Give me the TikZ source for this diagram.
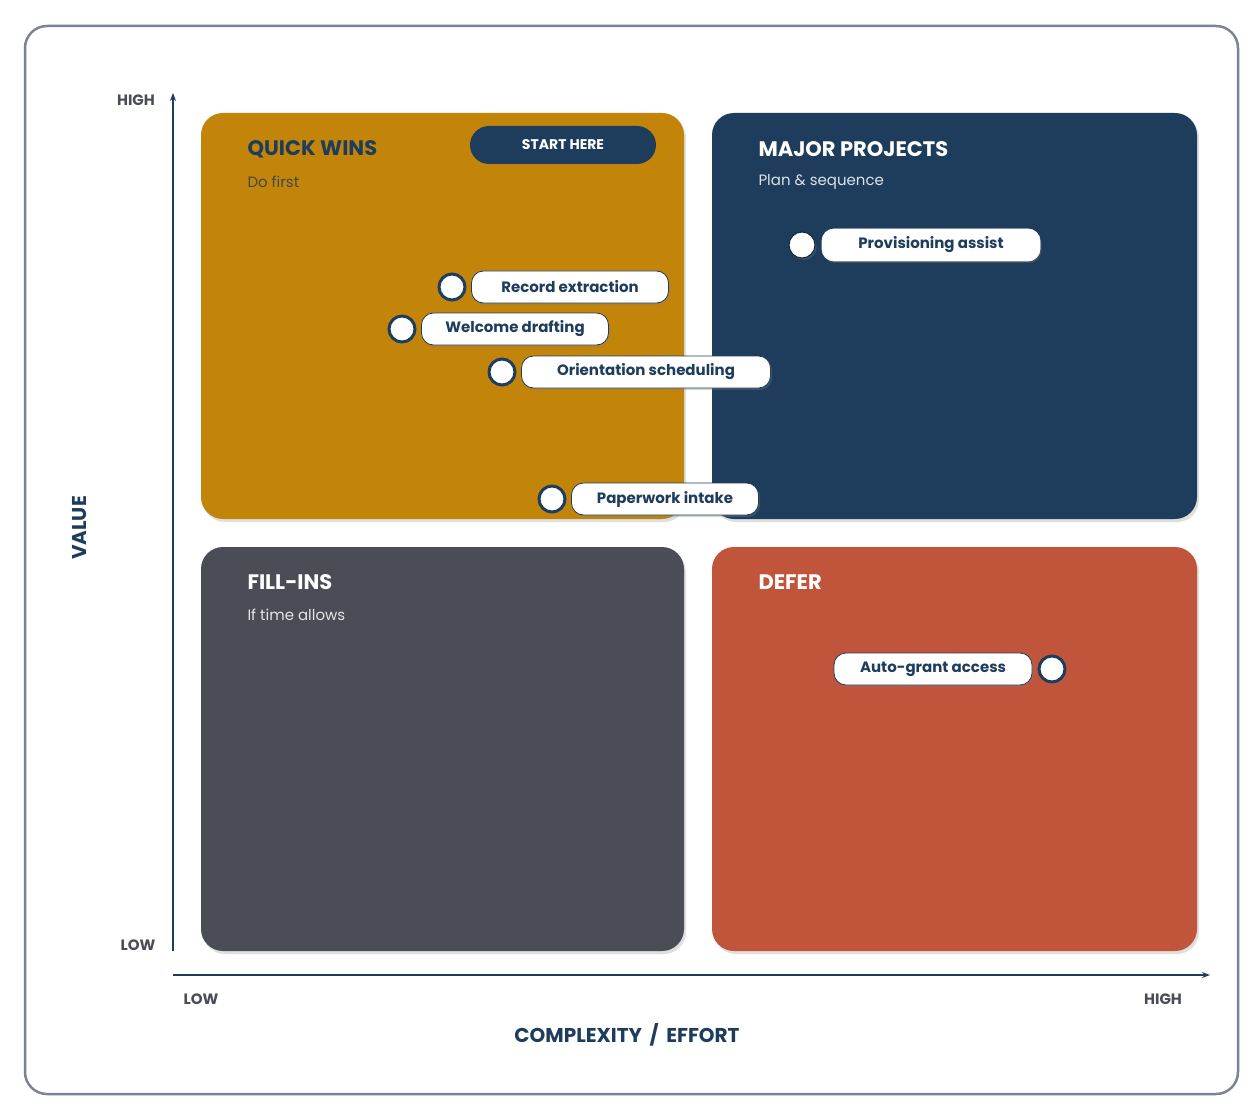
\documentclass[tikz,border=0pt]{standalone}
\usepackage{fontspec}
\setmainfont{Poppins}
\usetikzlibrary{shadows,arrows.meta}
\definecolor{gold}{HTML}{C2850A}
\definecolor{navy}{HTML}{1E3D5C}
\definecolor{slate}{HTML}{4A4D56}
\definecolor{rust}{HTML}{C0553B}
\definecolor{frame}{HTML}{7A8594}
\definecolor{axlbl}{HTML}{4A4D56}
\begin{document}
\begin{tikzpicture}[x=1pt,y=-1pt,
  quad/.style={rounded corners=22pt, drop shadow={opacity=0.25,shadow xshift=2pt,shadow yshift=-3pt}},
  pill/.style={draw=navy, line width=0.8pt, fill=white, rounded corners=12pt, drop shadow={opacity=0.3,shadow xshift=1.5pt,shadow yshift=-2pt}},
  plbl/.style={font=\bfseries\fontsize{15}{18}\selectfont, text=navy},
  dot/.style={circle, draw=navy, line width=3pt, fill=white, minimum size=26pt, inner sep=0pt, drop shadow={opacity=0.3,shadow xshift=1.5pt,shadow yshift=-2pt}},
  qtitle/.style={anchor=west, font=\bfseries\fontsize{21}{24}\selectfont},
  qsub/.style={anchor=west, font=\fontsize{15}{18}\selectfont},
  axl/.style={font=\bfseries\fontsize{15}{18}\selectfont, text=axlbl}]
\useasboundingbox (0,0) rectangle (1255,1107);
\fill[white] (0,0) rectangle (1255,1107);
\draw[frame, line width=2.5pt, rounded corners=22pt] (25,26) rectangle (1238,1094);
% quadrants
\fill[gold,quad] (201,113) rectangle (684,519);
\fill[navy,quad] (712,113) rectangle (1197,519);
\fill[slate,quad] (201,547) rectangle (684,951);
\fill[rust,quad] (712,547) rectangle (1197,951);
\node[qtitle,text=navy] (qw) at (244,149) {QUICK WINS};
\node[qsub,text=navy!80!gold] (qws) at (244,182) {Do first};
\node[qtitle,text=white] (mp) at (755,149) {MAJOR PROJECTS};
\node[qsub,text=white!85!navy] (mps) at (755,182) {Plan \& sequence};
\node[qtitle,text=white] (fi) at (244,582) {FILL-INS};
\node[qsub,text=white!85!slate] (fis) at (244,615) {If time allows};
\node[qtitle,text=white] (df) at (755,582) {DEFER};
% start here
\node[fill=navy, rounded corners=19pt, minimum width=186pt, minimum height=38pt, text=white, font=\bfseries\fontsize{14}{16}\selectfont] (start) at (563,145) {START HERE};
% axes
\draw[navy, line width=1.5pt, -{Stealth[length=8pt,width=6pt]}] (173,951) coordinate (y0) -- (173,93) coordinate (y1);
\draw[navy, line width=1.5pt, -{Stealth[length=8pt,width=6pt]}] (173,975) coordinate (x0) -- (1210,975) coordinate (x1);
\node[axl] (hv) at (136,100) {HIGH};
\node[axl] (lv) at (138,945) {LOW};
\node[axl] (lx) at (201,999) {LOW};
\node[axl] (hx) at (1163,999) {HIGH};
\node[font=\bfseries\fontsize{20}{22}\selectfont, text=navy, rotate=90] (val) at (80,528) {VALUE};
\node[font=\bfseries\fontsize{20}{22}\selectfont, text=navy] (cx) at (627,1035) {COMPLEXITY \,/\, EFFORT};
% items
\node[pill, minimum width=197pt, minimum height=32pt] (p1) at (570,287) {};
\node[plbl] at (p1) {Record extraction};
\node[dot] (m1) at (452,287) {};
\node[pill, minimum width=187pt, minimum height=32pt] (p2) at (515,329) {};
\node[plbl] at (p2) {Welcome drafting};
\node[dot] (m2) at (402,329) {};
\node[pill, minimum width=249pt, minimum height=32pt] (p3) at (646,372) {};
\node[plbl] at (p3) {Orientation scheduling};
\node[dot] (m3) at (502,372) {};
\node[pill, minimum width=187pt, minimum height=32pt] (p4) at (665,499) {};
\node[plbl] at (p4) {Paperwork intake};
\node[dot] (m4) at (552,499) {};
\node[pill, draw=white, minimum width=218pt, minimum height=32pt] (p5) at (931,245) {};
\node[plbl] at (p5) {Provisioning assist};
\node[dot, draw=navy!60!black, line width=1pt] (m5) at (802,245) {};
\node[pill, minimum width=198pt, minimum height=32pt] (p6) at (933,669) {};
\node[plbl] at (p6) {Auto-grant access};
\node[dot] (m6) at (1052,669) {};
\end{tikzpicture}
\end{document}
